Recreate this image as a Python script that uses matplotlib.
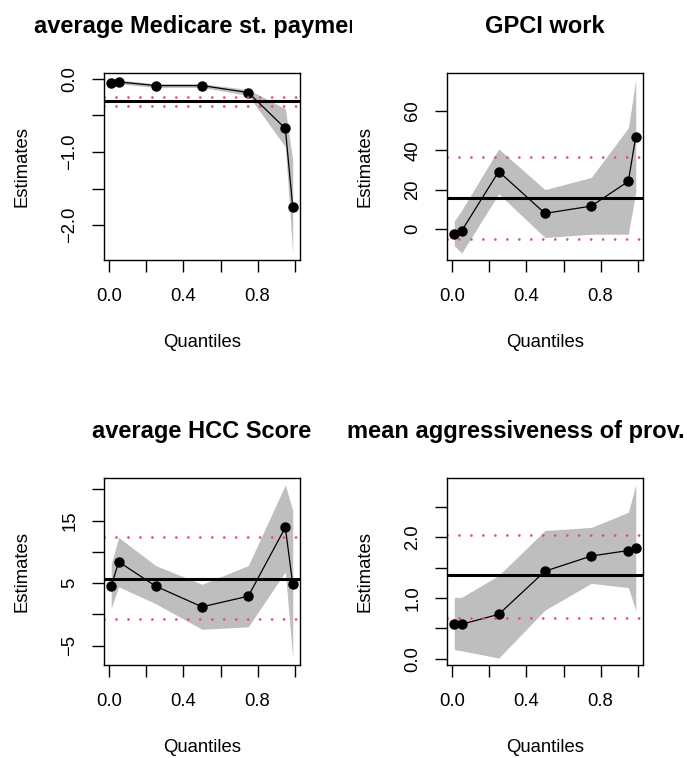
import matplotlib
matplotlib.use("Agg")
import matplotlib.pyplot as plt
from matplotlib.transforms import Bbox, TransformedBbox

plt.rcParams['font.family'] = ['Liberation Sans', 'DejaVu Sans']

# quantiles used in the fits
taus = [0.01, 0.05, 0.25, 0.5, 0.75, 0.95, 0.99]

titles = ['average Medicare st. payment', 'GPCI work',
          'average HCC Score', 'mean aggressiveness of prov.']

# quantile regression estimates
est_pay = [-0.06, -0.045, -0.095, -0.095, -0.19, -0.68, -1.75]
est_gpci = [-2.7, -1.0, 29.2, 7.9, 11.6, 24.2, 46.9]
est_hcc = [4.5, 8.4, 4.5, 1.2, 2.9, 13.9, 4.8]
est_aggr = [0.567, 0.567, 0.73, 1.44, 1.69, 1.78, 1.83]

# confidence band (lower / upper)
lo_pay = [-0.08, -0.07, -0.12, -0.12, -0.23, -0.93, -2.38]
hi_pay = [-0.025, -0.018, -0.07, -0.07, -0.15, -0.41, -1.11]
lo_gpci = [-8.6, -12.3, 17.8, -4.4, -2.7, -2.7, 18.7]
hi_gpci = [4.0, 9.5, 40.7, 20.0, 26.2, 51.4, 75.8]
lo_hcc = [1.0, 4.4, 1.7, -2.4, -2.0, 6.8, -7.0]
hi_hcc = [8.1, 12.3, 7.8, 4.8, 7.8, 20.7, 16.6]
lo_aggr = [0.15, 0.13, 0.01, 0.80, 1.24, 1.17, 0.79]
hi_aggr = [1.01, 1.01, 1.37, 2.11, 2.16, 2.41, 2.86]

# OLS estimate and its confidence limits
ols = [-0.31, 15.5, 5.7, 1.37]
ols_lo = [-0.37, -5.2, -0.8, 0.67]
ols_hi = [-0.25, 36.5, 12.4, 2.04]

yticks = [[0.0, -0.5, -1.0, -1.5, -2.0], [0, 20, 40, 60],
          [-5, 0, 5, 10, 15, 20], [0.0, 0.5, 1.0, 1.5, 2.0, 2.5]]
ylabs = [['0.0', '', '\u22121.0', '', '\u22122.0'], ['0', '20', '40', '60'],
         ['\u22125', '', '5', '', '15', ''],
         ['0.0', '', '1.0', '', '2.0', '']]

ests = [est_pay, est_gpci, est_hcc, est_aggr]
los = [lo_pay, lo_gpci, lo_hcc, lo_aggr]
his = [hi_pay, hi_gpci, hi_hcc, hi_aggr]

fig = plt.figure(figsize=(6.87, 7.58), dpi=100)
lefts = [104, 447, 104, 447]
tops = [73, 73, 478, 478]
W, H = 687.0, 758.0
clips = [(0, 0.5, 0.513, 1.0), (0.5, 0.5, 1.0, 1.0),
         (0, 0, 0.5, 0.5), (0.49, 0, 1.0, 0.5)]

for i in range(4):
    ax = fig.add_axes([lefts[i] / W, 1 - (tops[i] + 187) / H, 196 / W, 187 / H])
    ax.fill_between(taus, los[i], his[i], color='#BEBEBE', lw=0)
    ax.plot(taus, ests[i], color='black', lw=0.9, marker='o', ms=6.5)
    ax.axhline(ols[i], color='black', lw=2.2)
    for v in (ols_lo[i], ols_hi[i]):
        ax.axhline(v, color='#DF536B', lw=2, linestyle=(0, (0.01, 4.3)),
                   dash_capstyle='round')
    lo, hi = min(los[i]), max(his[i])
    pad = 0.04 * (hi - lo)
    ax.set_ylim(lo - pad, hi + pad)
    ax.set_xlim(0.01 - 0.04 * 0.98, 0.99 + 0.04 * 0.98)
    ax.set_xticks([0, 0.2, 0.4, 0.6, 0.8, 1.0])
    ax.set_xticklabels(['0.0', '', '0.4', '', '0.8', ''])
    ax.set_yticks(yticks[i])
    ax.set_yticklabels(ylabs[i], rotation=90, va='center')
    ax.tick_params(length=8.5, width=1, labelsize=13.3, direction='out')
    ax.tick_params(axis='x', pad=12)
    ax.tick_params(axis='y', pad=10)
    for s in ax.spines.values():
        s.set_linewidth(1)
    ax.set_xlabel('Quantiles', fontsize=13.3, va='center')
    ax.xaxis.set_label_coords(0.5, -83 / 187)
    ax.set_ylabel('Estimates', fontsize=13.3, va='center')
    ax.yaxis.set_label_coords(-82 / 196, 0.5)
    t = ax.set_title(titles[i], fontsize=17, fontweight='bold', pad=29)
    if i == 3:
        # long title starts left of its panel
        t.set_ha('left')
        t.set_x(-99 / 195)
    c = clips[i]
    t.set_clip_box(TransformedBbox(Bbox([[c[0], c[1]], [c[2], c[3]]]),
                                   fig.transFigure))
    t.set_clip_on(True)

fig.savefig('out.png', dpi=100)
